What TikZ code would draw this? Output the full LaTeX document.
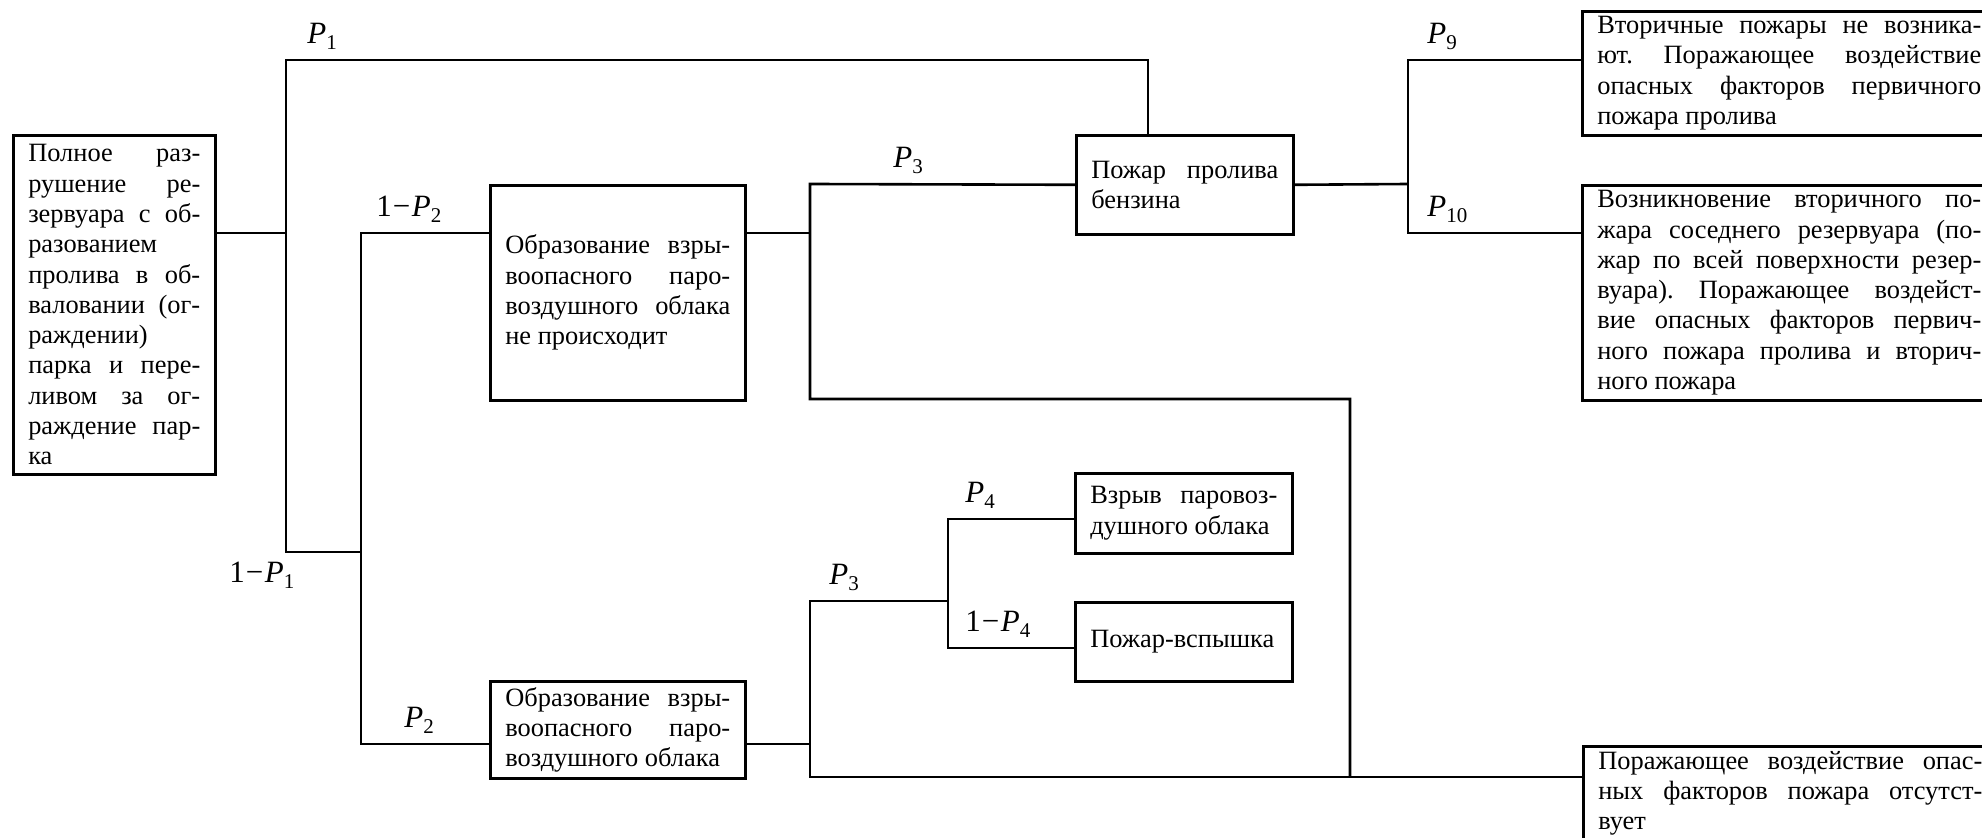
\documentclass[tikz,border=0pt]{standalone}
\usepackage{fontspec}
\setmainfont{Liberation Serif}
\frenchspacing
\newcommand{\jl}[1]{\leavevmode\hbox to \linewidth{\spaceskip=0pt\relax #1}}
\newcommand{\Pv}[1]{\textit{P}\raisebox{-3pt}{\fontsize{10.5}{12}\selectfont #1}}
\newcommand{\mn}{\kern0.5pt−\kern0.8pt}

\begin{document}
\begin{tikzpicture}[
        x=0.5pt, y=-0.5pt,
        box/.style={rectangle, draw, line width=1.3pt, anchor=north west, inner xsep=7.5pt, inner ysep=0pt, align=justify, font=\fontsize{13.2}{15.15}\selectfont},
        line/.style={line width=1.3pt},
        prob/.style={anchor=base west, inner sep=0pt, font=\fontsize{15.5}{17}\selectfont}
    ]
        \useasboundingbox (0,0) rectangle (1982,838);
        \clip (0,0) rectangle (1982,838);

        % Event boxes
        \node[box, text width=86pt, minimum height=169.5pt] (root) at (12,134) {\jl{Полное раз-}\\ \jl{рушение ре-}\\ \jl{зервуара с об-}\\ разованием\\ \jl{пролива в об-}\\ \jl{валовании (ог-}\\ раждении)\\ \jl{парка и пере-}\\ \jl{ливом за ог-}\\ \jl{раждение пар-}\\ ка};
        \node[box, text width=112.5pt, minimum height=107.5pt] (nocloud) at (489,184) {\jl{Образование взры-}\\ \jl{воопасного паро-}\\ \jl{воздушного облака}\\ не происходит};
        \node[box, text width=112.5pt, minimum height=48.5pt] (cloud) at (489,680) {\jl{Образование взры-}\\ \jl{воопасного паро-}\\ воздушного облака};
        \node[box, text width=93.5pt, minimum height=49.5pt] (fire) at (1075,134) {\jl{Пожар пролива}\\ бензина};
        \node[box, text width=93.5pt, minimum height=40pt] (blast) at (1074,472) {\jl{Взрыв паровоз-}\\ душного облака};
        \node[box, text width=93.5pt, minimum height=39.5pt] (flash) at (1074,601) {Пожар-вспышка};
        \node[box, text width=192pt, minimum height=62pt] (nosec) at (1581,10) {\jl{Вторичные пожары не возника-}\\ \jl{ют. Поражающее воздействие}\\ \jl{опасных факторов первичного}\\ пожара пролива};
        \node[box, text width=192pt, minimum height=107.5pt] (sec) at (1581,184) {\jl{Возникновение вторичного по-}\\ \jl{жара соседнего резервуара (по-}\\ \jl{жар по всей поверхности резер-}\\ \jl{вуара). Поражающее воздейст-}\\ \jl{вие опасных факторов первич-}\\ \jl{ного пожара пролива и вторич-}\\ ного пожара};
        \node[box, text width=192pt, minimum height=47pt] (none) at (1582,745) {\jl{Поражающее воздействие опас-}\\ \jl{ных факторов пожара отсутст-}\\ вует};

        % Branch points
        \coordinate (a) at (286,233);
        \coordinate (a1) at (286,60);
        \coordinate (a2) at (286,552);
        \coordinate (t) at (1148,60);
        \coordinate (b1) at (361,233);
        \coordinate (b2) at (361,744);
        \coordinate (c) at (810,233);
        \coordinate (c1) at (810,184);
        \coordinate (c2) at (810,399);
        \coordinate (d) at (1350,399);
        \coordinate (d1) at (1350,777);
        \coordinate (e) at (810,744);
        \coordinate (e1) at (810,601);
        \coordinate (e2) at (810,777);
        \coordinate (g) at (948,601);
        \coordinate (g1) at (948,519);
        \coordinate (g2) at (948,648);
        \coordinate (h) at (1408,184);
        \coordinate (h1) at (1408,60);
        \coordinate (h2) at (1408,233);

        % Tree lines
        \draw[line] (root.east |- a) -- (a);
        \draw[line] (t |- fire.north) -- (t) -- (a1) -- (a2) -- (a2 -| b1);
        \draw[line] (nocloud.west |- b1) -- (b1) -- (b2) -- (cloud.west |- b2);
        \draw[line] (nocloud.east |- c) -- (c);
        \draw[line] (fire.west) -- (c1) -- (c2) -- (d) -- (d1);
        \draw[line] (cloud.east |- e) -- (e);
        \draw[line] (g) -- (e1) -- (e2) -- (none.west |- e2);
        \draw[line] (blast.west |- g1) -- (g1) -- (g2) -- (flash.west |- g2);
        \draw[line] (fire.east) -- (h);
        \draw[line] (nosec.west |- h1) -- (h1) -- (h2) -- (sec.west |- h2);

        % Probabilities
        \node[prob] (p1) at (307,44) {\Pv{1}};
        \node[prob] (q1) at (229,583) {1\mn\Pv{1}};
        \node[prob] (q2) at (376,217) {1\mn\Pv{2}};
        \node[prob] (p2) at (404,728) {\Pv{2}};
        \node[prob] (p3) at (893,168) {\Pv{3}};
        \node[prob] (p3b) at (829,585) {\Pv{3}};
        \node[prob] (p4) at (965,503) {\Pv{4}};
        \node[prob] (q4) at (965,632) {1\mn\Pv{4}};
        \node[prob] (p9) at (1427,44) {\Pv{9}};
        \node[prob] (p10) at (1427,217) {\Pv{10}};
    \end{tikzpicture}
\end{document}
